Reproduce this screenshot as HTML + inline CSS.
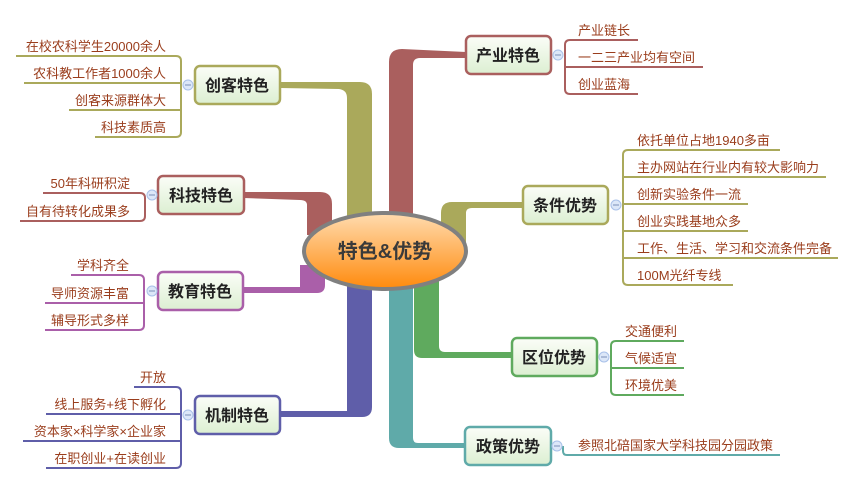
<!DOCTYPE html>
<html><head><meta charset="utf-8"><style>
html,body{margin:0;padding:0;background:#fff;width:856px;height:484px;overflow:hidden}
svg{display:block}
.lf{font-family:"Liberation Sans","Noto Sans CJK SC",sans-serif;font-size:13px;fill:#9a3d1c}
.nd{font-family:"Liberation Sans","Noto Sans CJK SC",sans-serif;font-size:16px;font-weight:bold;fill:#222}
</style></head><body>
<svg width="856" height="484" viewBox="0 0 856 484" xmlns="http://www.w3.org/2000/svg">
<defs>
<linearGradient id="ng" x1="0" y1="0" x2="0" y2="1"><stop offset="0" stop-color="#fbfdf8"/><stop offset="1" stop-color="#dcefd2"/></linearGradient>
<linearGradient id="eg" x1="0" y1="0" x2="0" y2="1"><stop offset="0" stop-color="#ffdcb0"/><stop offset="1" stop-color="#ff8a0c"/></linearGradient>
</defs>
<!-- branches -->
<path d="M280,82 L360,82 Q372,82 372,94 L372,225 L347,225 L347,98 Q347,90 339,89 L280,88 Z" fill="#aaa95b"/>
<path d="M389,235 L389,62 Q389,49 402,49 L466,52 L466,58 L420,58 Q413,58 413,65 L413,235 Z" fill="#aa5f5e"/>
<path d="M244,192 L320,192 Q332,192 332,204 L332,235 L307,235 L307,205 Q307,200 300,200 L244,198 Z" fill="#aa5f5e"/>
<path d="M466,245 L466,213 Q466,208 472,208 L523,208 L523,202 L452,202 Q441,202 441,213 L441,245 Z" fill="#aaa95b"/>
<path d="M325,265 L325,285 Q325,293 317,293 L243,293 L243,287 L300,287 L300,265 Z" fill="#aa5fa9"/>
<path d="M347,265 L347,411 L280,411 L280,417 L362,417 Q372,417 372,407 L372,265 Z" fill="#5f5ea9"/>
<path d="M389,265 L389,438 Q389,448 399,448 L465,448 L465,443 L418,443 Q413,443 413,438 L413,265 Z" fill="#5faaa9"/>
<path d="M414,265 L414,350 Q414,358 422,358 L512,358 L512,352 L445,352 Q439,352 439,346 L439,265 Z" fill="#5faa5e"/>
<!-- ellipse -->
<ellipse cx="385" cy="251" rx="81" ry="38" fill="url(#eg)" stroke="#808080" stroke-width="4"/>
<text x="385" y="258" text-anchor="middle" font-family="Liberation Sans,Noto Sans CJK SC,sans-serif" font-size="20" font-weight="bold" fill="#3a3a3a">特色&amp;优势</text>
<!-- nodes -->
<g stroke-width="2.5">
<rect x="195" y="66" width="85" height="38" rx="5" fill="url(#ng)" stroke="#aaa95b"/>
<rect x="158" y="176" width="86" height="38" rx="5" fill="url(#ng)" stroke="#aa5f5e"/>
<rect x="158" y="272" width="85" height="38" rx="5" fill="url(#ng)" stroke="#aa5fa9"/>
<rect x="195" y="396" width="85" height="38" rx="5" fill="url(#ng)" stroke="#5f5ea9"/>
<rect x="466" y="36" width="85" height="38" rx="5" fill="url(#ng)" stroke="#aa5f5e"/>
<rect x="523" y="186" width="85" height="38" rx="5" fill="url(#ng)" stroke="#aaa95b"/>
<rect x="512" y="338" width="85" height="38" rx="5" fill="url(#ng)" stroke="#5faa5e"/>
<rect x="465" y="427" width="86" height="38" rx="5" fill="url(#ng)" stroke="#5faaa9"/>
</g>
<g class="nd" text-anchor="middle">
<text x="237" y="91">创客特色</text>
<text x="201" y="201">科技特色</text>
<text x="200" y="297">教育特色</text>
<text x="237" y="421">机制特色</text>
<text x="508" y="61">产业特色</text>
<text x="565" y="211">条件优势</text>
<text x="554" y="363">区位优势</text>
<text x="508" y="452">政策优势</text>
</g>
<!-- leaf brackets & lines -->
<g fill="none" stroke-width="2">
<path d="M16,56 H176 Q181,56 181,61 V132 Q181,137 176,137 H95 M24,83 H181 M69,110 H181" stroke="#aaa95b"/>
<path d="M43,193 H140 Q145,193 145,198 V216 Q145,221 140,221 H20" stroke="#aa5f5e"/>
<path d="M71,275 H139 Q144,275 144,280 V325 Q144,330 139,330 H45 M45,303 H144" stroke="#aa5fa9"/>
<path d="M134,387 H176 Q181,387 181,392 V463 Q181,468 176,468 H46 M46,414 H181 M23,441 H181" stroke="#5f5ea9"/>
<path d="M638,40 H570 Q565,40 565,45 V89 Q565,94 570,94 H638 M565,67 H703" stroke="#aa5f5e"/>
<path d="M780,150 H628 Q623,150 623,155 V280 Q623,285 628,285 H733 M623,177 H826 M623,204 H748 M623,231 H748 M623,258 H838" stroke="#aaa95b"/>
<path d="M684,341 H616 Q611,341 611,346 V390 Q611,395 616,395 H684 M611,368 H684" stroke="#5faa5e"/>
<path d="M563,446 V451 Q563,455 567,455 H780" stroke="#5faaa9"/>
</g>
<!-- collapse circles -->
<g fill="#dce7f8" stroke="#a9c1e9" stroke-width="1">
<circle cx="188" cy="85" r="5"/><circle cx="152" cy="195" r="5"/><circle cx="152" cy="291" r="5"/><circle cx="188" cy="415" r="5"/>
<circle cx="558" cy="55" r="5"/><circle cx="616" cy="205" r="5"/><circle cx="604" cy="357" r="5"/><circle cx="557" cy="446" r="5"/>
</g>
<g stroke="#7a8fb8" stroke-width="1">
<path d="M185,85h6M149,195h6M149,291h6M185,415h6M555,55h6M613,205h6M601,357h6M554,446h6"/>
</g>
<!-- leaf text -->
<g class="lf" text-anchor="end">
<text x="166" y="51">在校农科学生20000余人</text>
<text x="166" y="78">农科教工作者1000余人</text>
<text x="166" y="105">创客来源群体大</text>
<text x="166" y="132">科技素质高</text>
<text x="130" y="188">50年科研积淀</text>
<text x="130" y="216">自有待转化成果多</text>
<text x="129" y="270">学科齐全</text>
<text x="129" y="298">导师资源丰富</text>
<text x="129" y="325">辅导形式多样</text>
<text x="166" y="382">开放</text>
<text x="166" y="409">线上服务+线下孵化</text>
<text x="166" y="436">资本家×科学家×企业家</text>
<text x="166" y="463">在职创业+在读创业</text>
</g>
<g class="lf">
<text x="578" y="35">产业链长</text>
<text x="578" y="62">一二三产业均有空间</text>
<text x="578" y="89">创业蓝海</text>
<text x="637" y="145">依托单位占地1940多亩</text>
<text x="637" y="172">主办网站在行业内有较大影响力</text>
<text x="637" y="199">创新实验条件一流</text>
<text x="637" y="226">创业实践基地众多</text>
<text x="637" y="253">工作、生活、学习和交流条件完备</text>
<text x="637" y="280">100M光纤专线</text>
<text x="625" y="336">交通便利</text>
<text x="625" y="363">气候适宜</text>
<text x="625" y="390">环境优美</text>
<text x="578" y="450">参照北碚国家大学科技园分园政策</text>
</g>
</svg>
</body></html>
